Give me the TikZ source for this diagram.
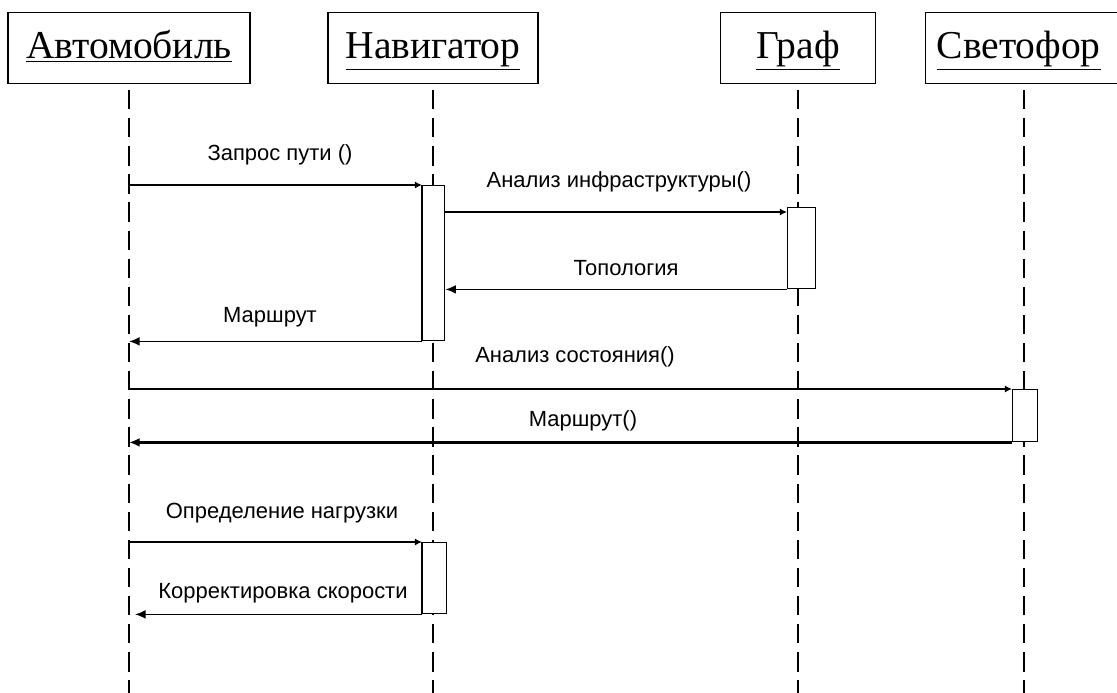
\documentclass[tikz,border=0pt]{standalone}
\usepackage{fontspec}
\setmainfont{Liberation Serif}
\setsansfont{Liberation Sans}
\usepackage{tikz}
\usetikzlibrary{arrows.meta,positioning,calc}
\tikzset{
  objbox/.style={draw, thick, fill=white, anchor=north, inner sep=0pt, minimum height=1.42cm, text height=16.5pt, text depth=5pt, font=\fontsize{22.5}{26}\selectfont},
  lifeline/.style={line width=0.8pt, dash pattern=on 11pt off 5pt},
  actbox/.style={draw, line width=0.8pt, fill=white, anchor=north west, inner sep=0pt},
  call/.style={line width=1.3pt, -{Latex[length=4pt,width=4pt]}},
  reply/.style={line width=0.9pt, -{Latex[length=6pt,width=5pt]}},
  msg/.style={font=\sffamily\fontsize{12.5}{14}\selectfont, inner sep=0pt}
}
\begin{document}
\begin{tikzpicture}[x=0.02cm, y=-0.02cm]
    \useasboundingbox (0,0) rectangle (1117,693);
    \clip (0,0) rectangle (1117,693);
    \fill[white] (0,0) rectangle (1117,693);

    % Objects
    \node[objbox, minimum width=4.84cm] (car) at (129,12) {\underline{Автомобиль}};
    \node[objbox, minimum width=4.20cm] (nav) at (433,12) {\underline{Навигатор}};
    \node[objbox, minimum width=3.10cm] (graph) at (798,12) {\underline{Граф}};
    \node[objbox, minimum width=5cm, text width=4.56cm, align=left, anchor=north west] (light) at (925,12) {\underline{Светофор}};

    % Lifelines
    \coordinate (carT) at (129,90);   \coordinate (carB) at (129,693);
    \coordinate (navT) at (433,90);   \coordinate (navB) at (433,693);
    \coordinate (graphT) at (798,90); \coordinate (graphB) at (798,693);
    \coordinate (lightT) at (1024,90); \coordinate (lightB) at (1024,693);
    \draw[lifeline] (carT) -- (carB);
    \draw[lifeline, line width=1.3pt] (navT) -- (navB);
    \draw[lifeline] (graphT) -- (graphB);
    \draw[lifeline] (lightT) -- (lightB);

    % Activations
    \node[actbox, minimum width=0.44cm, minimum height=3.10cm] (navact1) at (422,185) {};
    \node[actbox, minimum width=0.56cm, minimum height=1.62cm] (graphact) at (787,207) {};
    \node[actbox, minimum width=0.50cm, minimum height=1.04cm] (lightact) at (1012,389) {};
    \node[actbox, minimum width=0.48cm, minimum height=1.42cm] (navact2) at (422,542) {};
    \draw[line width=1.6pt] (navact1.north west) -- (navact1.south west);
    \draw[line width=1.6pt] (navact2.north west) -- (navact2.south west);

    % Messages: route request
    \draw[call] (carT |- navact1.north) -- (navact1.north west);
    \node[msg] (m1) at (280,155) {Запрос пути ()};
    \draw[call] (navact1.east |- 0,212) -- (graphact.west |- 0,212);
    \node[msg] (m2) at (619,182) {Анализ инфраструктуры()};
    \draw[reply] (graphact.south west) -- (navact1.east |- graphact.south);
    \node[msg] (m3) at (626,268) {Топология};
    \draw[reply] (navact1.south west) -- (carT |- navact1.south);
    \node[msg] (m4) at (270,317) {Маршрут};

    % Messages: traffic light
    \draw[call] (carT |- lightact.north) -- (lightact.north west);
    \node[msg] (m5) at (575,357) {Анализ состояния()};
    \draw[reply, line width=1.3pt] (lightact.south west) -- (carT |- lightact.south);
    \node[msg] (m6) at (583,421) {Маршрут()};

    % Messages: load
    \draw[call] (carT |- navact2.north) -- (navact2.north west);
    \node[msg] (m7) at (282,513) {Определение нагрузки};
    \draw[reply] (navact2.south west) -- ($(carT |- navact2.south)+(6,0)$);
    \node[msg] (m8) at (283,593) {Корректировка скорости};
\end{tikzpicture}
\end{document}
